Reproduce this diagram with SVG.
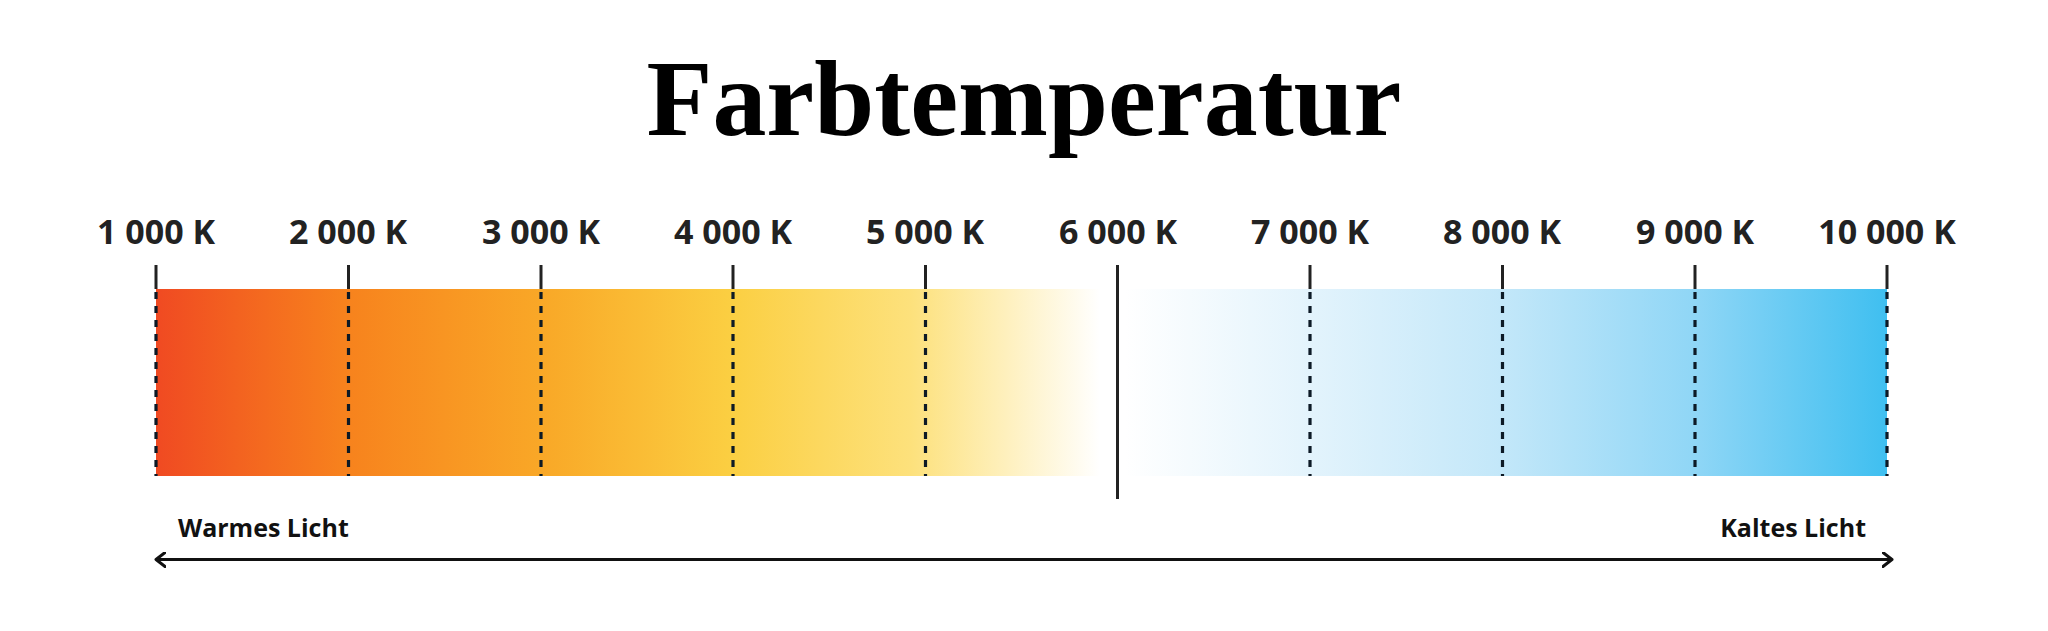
<svg xmlns="http://www.w3.org/2000/svg" width="2048" height="631" viewBox="0 0 2048 631">
<defs>
<linearGradient id="warm" gradientUnits="userSpaceOnUse" x1="156" y1="0" x2="1100" y2="0">
<stop offset="0" stop-color="#f04a22"/>
<stop offset="0.2" stop-color="#f7821d"/>
<stop offset="0.41" stop-color="#f9a827"/>
<stop offset="0.61" stop-color="#fbcf42"/>
<stop offset="0.8" stop-color="#fde17c"/>
<stop offset="0.9" stop-color="#fef0bd"/>
<stop offset="1" stop-color="#ffffff"/>
</linearGradient>
<linearGradient id="cold" gradientUnits="userSpaceOnUse" x1="1125" y1="0" x2="1887" y2="0">
<stop offset="0" stop-color="#ffffff"/>
<stop offset="0.25" stop-color="#e2f3fc"/>
<stop offset="0.5" stop-color="#c2e7f9"/>
<stop offset="0.75" stop-color="#8fd6f6"/>
<stop offset="1" stop-color="#3fbff0"/>
</linearGradient>
<marker id="ah" viewBox="0 0 12 16" refX="10" refY="8" markerWidth="12" markerHeight="16" markerUnits="userSpaceOnUse" orient="auto-start-reverse">
<path d="M1,1 L10,8 L1,15" fill="none" stroke="#111" stroke-width="3" stroke-linecap="round" stroke-linejoin="round"/>
</marker>
<style>
.lbl{font-family:"Open Sans","Liberation Sans",sans-serif;font-weight:700;font-size:34px;fill:#222;text-anchor:middle}
.side{font-family:"Open Sans","Liberation Sans",sans-serif;font-weight:700;font-size:25px;fill:#111}
.tick{stroke:#222;stroke-width:3}
.dash{stroke:#0d1a26;stroke-width:3.2;stroke-dasharray:7 7}
</style>
</defs>
<rect width="2048" height="631" fill="#fff"/>
<text x="1024" y="135" font-family="'Liberation Serif','DejaVu Serif',serif" font-weight="700" font-size="108" text-anchor="middle" textLength="755" lengthAdjust="spacingAndGlyphs" fill="#000">Farbtemperatur</text>
<g id="bar">
<rect x="156" y="289" width="944" height="187" fill="url(#warm)"/>
<rect x="1125" y="289" width="762" height="187" fill="url(#cold)"/>
</g>
<g id="scale">
<text class="lbl" x="156" y="244">1 000 K</text>
<text class="lbl" x="348" y="244">2 000 K</text>
<text class="lbl" x="541" y="244">3 000 K</text>
<text class="lbl" x="733" y="244">4 000 K</text>
<text class="lbl" x="925" y="244">5 000 K</text>
<text class="lbl" x="1118" y="244">6 000 K</text>
<text class="lbl" x="1310" y="244">7 000 K</text>
<text class="lbl" x="1502" y="244">8 000 K</text>
<text class="lbl" x="1695" y="244">9 000 K</text>
<text class="lbl" x="1887" y="244">10 000 K</text>
</g>
<g id="ticks">
<line class="tick" x1="156" y1="265" x2="156" y2="289"/>
<line class="tick" x1="348.5" y1="265" x2="348.5" y2="289"/>
<line class="tick" x1="541" y1="265" x2="541" y2="289"/>
<line class="tick" x1="733" y1="265" x2="733" y2="289"/>
<line class="tick" x1="925.5" y1="265" x2="925.5" y2="289"/>
<line class="tick" x1="1310" y1="265" x2="1310" y2="289"/>
<line class="tick" x1="1502.5" y1="265" x2="1502.5" y2="289"/>
<line class="tick" x1="1695" y1="265" x2="1695" y2="289"/>
<line class="tick" x1="1887" y1="265" x2="1887" y2="289"/>
<line class="dash" x1="156" y1="292" x2="156" y2="476"/>
<line class="dash" x1="348.5" y1="292" x2="348.5" y2="476"/>
<line class="dash" x1="541" y1="292" x2="541" y2="476"/>
<line class="dash" x1="733" y1="292" x2="733" y2="476"/>
<line class="dash" x1="925.5" y1="292" x2="925.5" y2="476"/>
<line class="dash" x1="1310" y1="292" x2="1310" y2="476"/>
<line class="dash" x1="1502.5" y1="292" x2="1502.5" y2="476"/>
<line class="dash" x1="1695" y1="292" x2="1695" y2="476"/>
<line class="dash" x1="1887" y1="292" x2="1887" y2="476"/>
<line x1="1117.5" y1="265" x2="1117.5" y2="499" stroke="#222" stroke-width="3"/>
</g>
<g id="connectors">
<line x1="156" y1="559.5" x2="1892" y2="559.5" stroke="#111" stroke-width="3" marker-start="url(#ah)" marker-end="url(#ah)"/>
</g>
<g id="warm-label"><text class="side" x="178" y="537">Warmes Licht</text></g>
<g id="cold-label"><text class="side" x="1866" y="537" text-anchor="end">Kaltes Licht</text></g>
</svg>
